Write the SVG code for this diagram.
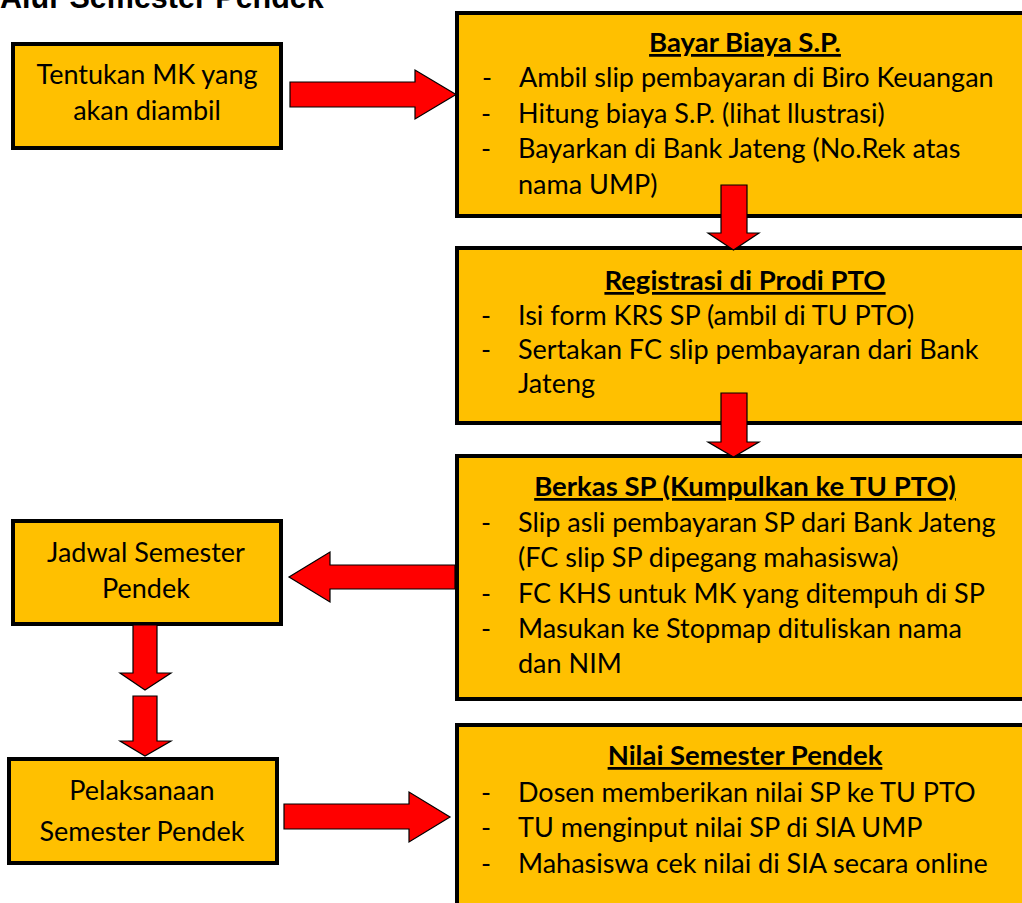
<svg xmlns="http://www.w3.org/2000/svg" width="1022" height="903" viewBox="0 0 1022 903">
<style>
.box{fill:#FFC000;stroke:#000;stroke-width:4}
.arrow{fill:#FF0000;stroke:#000;stroke-width:1.2;stroke-linejoin:miter}
.t{font-family:Lato,"Open Sans","Liberation Sans",sans-serif;fill:#000}
.lt{font-size:27px;text-anchor:middle}
.rt{font-size:27px}
.hd{font-size:27.5px;font-weight:bold;text-anchor:middle;text-decoration:underline}
.main{font-family:"Liberation Sans",Arial,sans-serif;font-weight:bold;font-size:30.5px;fill:#000}
</style>
<rect width="1022" height="903" fill="#fff"/>
<text class="main" x="0" y="8">Alur Semester Pendek</text>

<g id="n-tentukan">
<rect class="box" x="13" y="44" width="268" height="104"/>
<text class="t lt" x="147" y="84">Tentukan MK yang</text>
<text class="t lt" x="147" y="120">akan diambil</text>
</g>

<g id="n-bayar">
<rect class="box" x="457" y="13" width="580" height="203"/>
<text class="t hd" x="745" y="52">Bayar Biaya S.P.</text>
<text class="t rt" x="482" y="87">-</text><text class="t rt" x="519" y="87">Ambil slip pembayaran di Biro Keuangan</text>
<text class="t rt" x="481" y="123">-</text><text class="t rt" x="518" y="123">Hitung biaya S.P. (lihat llustrasi)</text>
<text class="t rt" x="481" y="158">-</text><text class="t rt" x="518" y="158">Bayarkan di Bank Jateng (No.Rek atas</text>
<text class="t rt" x="518" y="194">nama UMP)</text>
</g>

<g id="n-registrasi">
<rect class="box" x="457" y="248" width="580" height="175"/>
<text class="t hd" x="745" y="290">Registrasi di Prodi PTO</text>
<text class="t rt" x="481" y="325">-</text><text class="t rt" x="518" y="325">Isi form KRS SP (ambil di TU PTO)</text>
<text class="t rt" x="481" y="359">-</text><text class="t rt" x="518" y="359">Sertakan FC slip pembayaran dari Bank</text>
<text class="t rt" x="518" y="393">Jateng</text>
</g>

<g id="n-berkas">
<rect class="box" x="457" y="456" width="580" height="243"/>
<text class="t hd" x="745" y="496">Berkas SP (Kumpulkan ke TU PTO)</text>
<text class="t rt" x="481" y="532">-</text><text class="t rt" x="518" y="532">Slip asli pembayaran SP dari Bank Jateng</text>
<text class="t rt" x="518" y="567">(FC slip SP dipegang mahasiswa)</text>
<text class="t rt" x="481" y="603">-</text><text class="t rt" x="518" y="603">FC KHS untuk MK yang ditempuh di SP</text>
<text class="t rt" x="481" y="638">-</text><text class="t rt" x="518" y="638">Masukan ke Stopmap dituliskan nama</text>
<text class="t rt" x="518" y="673">dan NIM</text>
</g>

<g id="n-nilai">
<rect class="box" x="457" y="725" width="580" height="200"/>
<text class="t hd" x="745" y="765">Nilai Semester Pendek</text>
<text class="t rt" x="481" y="802">-</text><text class="t rt" x="518" y="802">Dosen memberikan nilai SP ke TU PTO</text>
<text class="t rt" x="481" y="837">-</text><text class="t rt" x="518" y="837">TU menginput nilai SP di SIA UMP</text>
<text class="t rt" x="481" y="873">-</text><text class="t rt" x="518" y="873">Mahasiswa cek nilai di SIA secara online</text>
</g>

<g id="n-jadwal">
<rect class="box" x="13" y="521" width="268" height="103"/>
<text class="t lt" x="146" y="562">Jadwal Semester</text>
<text class="t lt" x="146" y="598">Pendek</text>
</g>

<g id="n-pelaksanaan">
<rect class="box" x="9" y="759" width="268" height="104"/>
<text class="t lt" x="142" y="800">Pelaksanaan</text>
<text class="t lt" x="142" y="841">Semester Pendek</text>
</g>

<g id="connectors">
<path class="arrow" d="M290,82 H415 V70 L456,94.5 L415,119 V107 H290 Z"/>
<path class="arrow" d="M721,185 V233 H708 L733.5,250 L759,233 H747 V185 Z"/>
<path class="arrow" d="M721,393 V442 H708 L733.5,457 L759,442 H747 V393 Z"/>
<path class="arrow" d="M455,565 H330 V552 L289,577 L330,602 V589 H455 Z"/>
<path class="arrow" d="M133,625 V673 H120 L145,690 L171,673 H157 V625 Z"/>
<path class="arrow" d="M133,696 V741 H120 L145,756 L171,741 H157 V696 Z"/>
<path class="arrow" d="M284,804 H409 V792 L450,817 L409,842 V829 H284 Z"/>
</g>
</svg>
